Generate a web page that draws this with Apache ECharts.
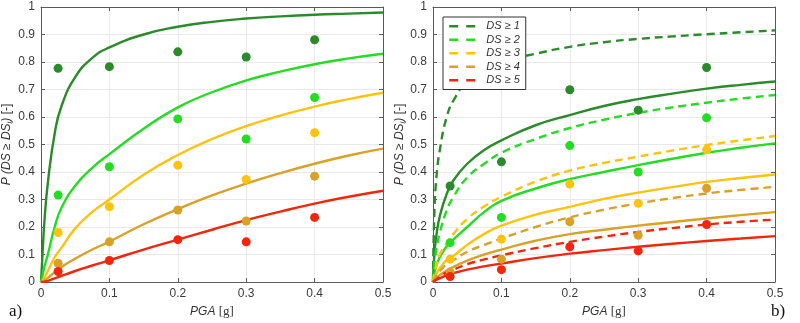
<!DOCTYPE html>
<html>
<head>
<meta charset="utf-8">
<script src="https://cdn.jsdelivr.net/npm/echarts@6/dist/echarts.min.js"></script>
<style>
html,body{margin:0;padding:0;background:#fff;}
#chart{width:800px;height:323px;}
</style>
</head>
<body>
<div id="chart"></div>
<script>
// ---- data ----
const xCurve = [0, 0.002, 0.005, 0.01, 0.02, 0.03, 0.05, 0.075, 0.1, 0.15, 0.2, 0.25, 0.3, 0.35, 0.4, 0.45, 0.5];
const xObs = [0.025, 0.1, 0.2, 0.3, 0.4];
const dsNames = ['DS ≥ 1', 'DS ≥ 2', 'DS ≥ 3', 'DS ≥ 4', 'DS ≥ 5'];
const xTicks = [0, 0.1, 0.2, 0.3, 0.4, 0.5];
const yTicks = [0, 0.1, 0.2, 0.3, 0.4, 0.5, 0.6, 0.7, 0.8, 0.9, 1];

// panel a) fitted curves
const aFit1 = [0, 0.09, 0.22, 0.36, 0.54, 0.64, 0.745, 0.815, 0.853, 0.90, 0.928, 0.946, 0.958, 0.966, 0.972, 0.976, 0.98];
const aFit2 = [0, 0.02, 0.055, 0.10, 0.20, 0.27, 0.35, 0.415, 0.465, 0.557, 0.635, 0.69, 0.733, 0.765, 0.792, 0.813, 0.83];
const aFit3 = [0, 0.005, 0.015, 0.04, 0.09, 0.125, 0.195, 0.255, 0.30, 0.39, 0.462, 0.52, 0.567, 0.605, 0.638, 0.665, 0.688];
const aFit4 = [0, 0.002, 0.006, 0.015, 0.036, 0.055, 0.085, 0.118, 0.147, 0.21, 0.265, 0.315, 0.358, 0.396, 0.43, 0.46, 0.485];
const aFit5 = [0, 0, 0.001, 0.004, 0.013, 0.022, 0.04, 0.06, 0.079, 0.118, 0.154, 0.19, 0.225, 0.256, 0.285, 0.31, 0.332];
// panel a) observed points
const aObs1 = [0.777, 0.783, 0.837, 0.818, 0.881];
const aObs2 = [0.316, 0.419, 0.593, 0.520, 0.671];
const aObs3 = [0.180, 0.274, 0.425, 0.373, 0.543];
const aObs4 = [0.068, 0.146, 0.262, 0.222, 0.385];
const aObs5 = [0.038, 0.078, 0.154, 0.146, 0.235];

// panel b) solid curves
const bFit1 = [0, 0.10, 0.17, 0.24, 0.32, 0.37, 0.43, 0.48, 0.515, 0.57, 0.607, 0.64, 0.665, 0.685, 0.703, 0.717, 0.729];
const bFit2 = [0, 0.03, 0.06, 0.09, 0.13, 0.155, 0.20, 0.255, 0.295, 0.34, 0.374, 0.40, 0.425, 0.448, 0.47, 0.488, 0.504];
const bFit3 = [0, 0.015, 0.03, 0.05, 0.08, 0.095, 0.135, 0.175, 0.205, 0.245, 0.273, 0.302, 0.325, 0.345, 0.364, 0.378, 0.391];
const bFit4 = [0, 0.005, 0.015, 0.025, 0.042, 0.055, 0.078, 0.10, 0.118, 0.15, 0.174, 0.19, 0.205, 0.218, 0.231, 0.243, 0.254];
const bFit5 = [0, 0.003, 0.008, 0.014, 0.024, 0.032, 0.045, 0.057, 0.067, 0.087, 0.103, 0.116, 0.128, 0.139, 0.149, 0.158, 0.167];
// panel b) dashed curves
const bDash1 = [0, 0.25, 0.38, 0.48, 0.60, 0.66, 0.73, 0.775, 0.80, 0.83, 0.855, 0.872, 0.884, 0.893, 0.901, 0.908, 0.915];
const bDash2 = [0, 0.07, 0.12, 0.18, 0.26, 0.31, 0.38, 0.43, 0.47, 0.52, 0.56, 0.59, 0.615, 0.635, 0.652, 0.667, 0.68];
const bDash3 = [0, 0.03, 0.06, 0.10, 0.14, 0.175, 0.23, 0.275, 0.31, 0.365, 0.405, 0.433, 0.456, 0.478, 0.498, 0.515, 0.531];
const bDash4 = [0, 0.01, 0.025, 0.04, 0.065, 0.08, 0.11, 0.135, 0.158, 0.20, 0.235, 0.263, 0.286, 0.305, 0.322, 0.335, 0.346];
const bDash5 = [0, 0.005, 0.01, 0.02, 0.035, 0.045, 0.065, 0.082, 0.097, 0.123, 0.146, 0.165, 0.182, 0.196, 0.209, 0.219, 0.227];
// panel b) observed points
const bObs1 = [0.349, 0.437, 0.699, 0.625, 0.780];
const bObs2 = [0.143, 0.235, 0.496, 0.400, 0.597];
const bObs3 = [0.083, 0.156, 0.356, 0.286, 0.481];
const bObs4 = [0.036, 0.083, 0.219, 0.170, 0.341];
const bObs5 = [0.020, 0.045, 0.128, 0.113, 0.209];

// ---- styling ----
const colors = ['#2b8a2b', '#22dd22', '#ffc20e', '#d9a128', '#f3260c'];
const FONT = 'Liberation Sans';
const axisCol = '#5a5a5a';

const pair = (xs, ys) => xs.map((x, i) => [x, ys[i]]);

function xAx(grid, pos) {
  const bottom = pos === 'bottom';
  return {
    type: 'value', gridIndex: grid, position: pos, min: 0, max: 0.5, interval: 0.1,
    axisLine: { show: true, onZero: false, lineStyle: { color: axisCol, width: 1 } },
    axisTick: { show: true, inside: true, length: 4, lineStyle: { color: axisCol } },
    axisLabel: { show: bottom, margin: 6, color: '#3a3a3a', fontSize: 12, fontFamily: FONT,
      formatter: v => String(+v.toFixed(1)) },
    splitLine: { show: bottom, lineStyle: { color: '#e9e9e9', width: 1 } },
    name: bottom ? '{i|PGA} {r|[g]}' : '',
    nameLocation: 'middle', nameGap: 21,
    nameTextStyle: { rich: {
      i: { fontStyle: 'italic', fontFamily: FONT, fontSize: 12, color: '#333' },
      r: { fontFamily: 'Liberation Serif', fontSize: 13, color: '#333' } } }
  };
}
function yAx(grid, pos) {
  const left = pos === 'left';
  return {
    type: 'value', gridIndex: grid, position: pos, min: 0, max: 1, interval: 0.1,
    axisLine: { show: true, onZero: false, lineStyle: { color: axisCol, width: 1 } },
    axisTick: { show: true, inside: true, length: 4, lineStyle: { color: axisCol } },
    axisLabel: { show: left, margin: 6, color: '#3a3a3a', fontSize: 12, fontFamily: FONT,
      formatter: v => String(+v.toFixed(1)) },
    splitLine: { show: left, lineStyle: { color: '#e9e9e9', width: 1 } },
    name: left ? '{i|P (DS} ≥ {i|DS}{s|i}{i|)} [-]' : '',
    nameLocation: 'middle', nameGap: grid === 0 ? 27 : 24, nameRotate: 90,
    nameTextStyle: { color: '#333', fontSize: 12, fontFamily: FONT, rich: {
      i: { fontStyle: 'italic', fontFamily: FONT, fontSize: 12, color: '#333' },
      s: { fontStyle: 'italic', fontFamily: FONT, fontSize: 8, color: '#333', verticalAlign: 'bottom', padding: [6, 0, 0, 0] } } }
  };
}

const series = [];
const fitA = [aFit1, aFit2, aFit3, aFit4, aFit5];
const obsA = [aObs1, aObs2, aObs3, aObs4, aObs5];
const fitB = [bFit1, bFit2, bFit3, bFit4, bFit5];
const dashB = [bDash1, bDash2, bDash3, bDash4, bDash5];
const obsB = [bObs1, bObs2, bObs3, bObs4, bObs5];

function lineS(name, xi, yi, data, col, dashed, z) {
  return { name, type: 'line', xAxisIndex: xi, yAxisIndex: yi, data, showSymbol: false, symbol: 'none',
    smooth: 0.5, z,
    lineStyle: { color: col, width: 2.4, type: dashed ? [8, 5] : 'solid' },
    itemStyle: { color: col }, silent: true };
}
function dotS(name, xi, yi, data, col) {
  return { name, type: 'scatter', xAxisIndex: xi, yAxisIndex: yi, data, symbol: 'circle', symbolSize: 9,
    itemStyle: { color: col, opacity: 1 }, z: 5, silent: true };
}

for (let k = 0; k < 5; k++) {
  series.push(lineS('a-fit-' + k, 0, 0, pair(xCurve, fitA[k]), colors[k], false, 3));
  series.push(dotS('a-obs-' + k, 0, 0, pair(xObs, obsA[k]), colors[k]));
}
for (let k = 0; k < 5; k++) {
  series.push(lineS('b-fit-' + k, 2, 2, pair(xCurve, fitB[k]), colors[k], false, 3));
  series.push(lineS(dsNames[k], 2, 2, pair(xCurve, dashB[k]), colors[k], true, 3));
  series.push(dotS('b-obs-' + k, 2, 2, pair(xObs, obsB[k]), colors[k]));
}

const chart = echarts.init(document.getElementById('chart'), null, { renderer: 'canvas' });
chart.setOption({
  animation: false,
  backgroundColor: '#fff',
  grid: [
    { left: 41, right: 417, top: 7, bottom: 41 },
    { left: 433, right: 25, top: 7, bottom: 41 }
  ],
  xAxis: [xAx(0, 'bottom'), xAx(0, 'top'), xAx(1, 'bottom'), xAx(1, 'top')],
  yAxis: [yAx(0, 'left'), yAx(0, 'right'), yAx(1, 'left'), yAx(1, 'right')],
  legend: {
    data: dsNames,
    orient: 'vertical', left: 443, top: 17,
    padding: [3, 6, 3, 5],
    itemWidth: 27, itemHeight: 8, itemGap: 1,
    itemStyle: { opacity: 0 },
    lineStyle: { width: 2.4, type: [9, 8] },
    backgroundColor: '#fff', borderColor: '#333', borderWidth: 1, borderRadius: 0,
    selectedMode: false,
    textStyle: { fontStyle: 'italic', fontFamily: FONT, fontSize: 11, color: '#333', lineHeight: 12.5, padding: [0, 0, 0, 5] }
  },
  graphic: [
    { type: 'text', left: 9, top: 303, style: { text: 'a)', font: '17px "Liberation Serif"', fill: '#111' } },
    { type: 'text', left: 771, top: 303, style: { text: 'b)', font: '17px "Liberation Serif"', fill: '#111' } }
  ],
  series
});
</script>
</body>
</html>
